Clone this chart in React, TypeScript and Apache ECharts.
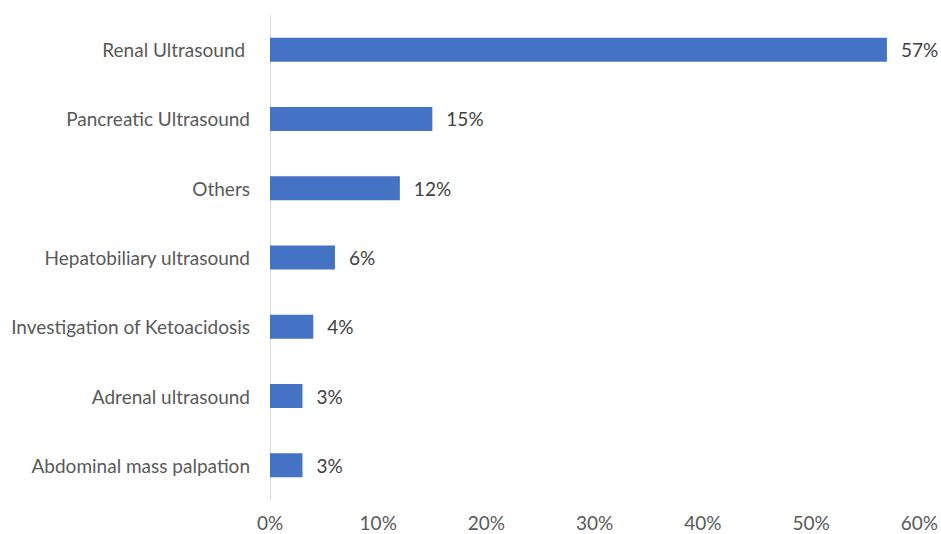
import React, { useEffect, useRef } from "react";
import * as echarts from "echarts";

const categories = [
  "Renal Ultrasound ",
  "Pancreatic Ultrasound",
  "Others",
  "Hepatobiliary ultrasound",
  "Investigation of Ketoacidosis",
  "Adrenal ultrasound",
  "Abdominal mass palpation",
];
const values = [57, 15, 12, 6, 4, 3, 3];
const xTicks = [0, 10, 20, 30, 40, 50, 60];

export default function App() {
  const ref = useRef<HTMLDivElement>(null);
  useEffect(() => {
    if (!ref.current) return;
    const chart = echarts.init(ref.current, null, { renderer: "svg" });
    const font = "Lato, 'Open Sans', sans-serif";
    chart.setOption({
      animation: false,
      grid: { left: 270, right: 21, top: 15, bottom: 34, containLabel: false },
      xAxis: {
        type: "value",
        min: xTicks[0],
        max: xTicks[xTicks.length - 1],
        interval: 10,
        axisLine: { show: false },
        axisTick: { show: false },
        splitLine: { show: false },
        axisLabel: {
          formatter: (v: number) => `${v}%`,
          color: "#595959",
          fontSize: 19,
          fontFamily: font,
          margin: 12,
          lineHeight: 20,
        },
      },
      yAxis: {
        type: "category",
        data: categories,
        inverse: true,
        axisLine: { show: true, lineStyle: { color: "#d9d9d9", width: 1 } },
        axisTick: { show: false },
        axisLabel: {
          color: "#595959",
          fontSize: 19,
          fontFamily: font,
          margin: 20,
        },
      },
      series: [
        {
          type: "bar",
          data: values,
          barWidth: 24,
          itemStyle: { color: "#4472C4" },
          label: {
            show: true,
            position: "right",
            distance: 14,
            formatter: (p: any) => `${p.value}%`,
            color: "#404040",
            fontSize: 19,
            fontFamily: font,
          },
        },
      ],
    });
    return () => chart.dispose();
  }, []);
  return (
    <div
      ref={ref}
      style={{ position: "fixed", left: 0, top: 0, width: 941, height: 534, background: "#fff" }}
    />
  );
}
